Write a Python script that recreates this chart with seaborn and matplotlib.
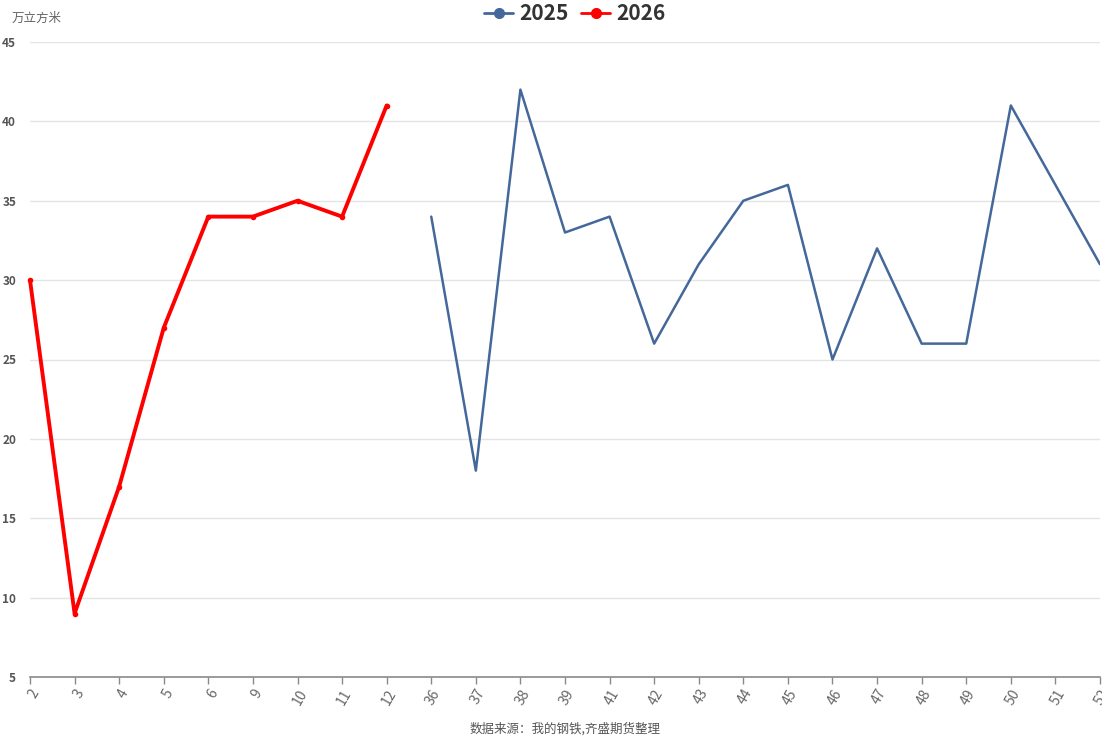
import matplotlib
matplotlib.use("Agg")
import matplotlib.pyplot as plt
from matplotlib.lines import Line2D
import seaborn as sns
import pandas as pd

weeks_2026 = ["2", "3", "4", "5", "6", "9", "10", "11", "12"]
values_2026 = [30, 9, 17, 27, 34, 34, 35, 34, 41]
weeks_2025 = ["36", "37", "38", "39", "41", "42", "43", "44", "45", "46",
              "47", "48", "49", "50", "51", "52"]
values_2025 = [34, 18, 42, 33, 34, 26, 31, 35, 36, 25, 32, 26, 26, 41, 36, 31]

all_weeks = weeks_2026 + weeks_2025
y_ticks = [5, 10, 15, 20, 25, 30, 35, 40, 45]

sns.set_theme(style="white")
plt.rcParams["font.family"] = ["Noto Sans CJK SC", "DejaVu Sans"]

df = pd.concat([
    pd.DataFrame({"week": weeks_2026, "value": values_2026, "year": "2026"}),
    pd.DataFrame({"week": weeks_2025, "value": values_2025, "year": "2025"}),
])
df["pos"] = df["week"].map({w: i for i, w in enumerate(all_weeks)})

blue = "#44689a"
red = "#ff0000"

fig = plt.figure(figsize=(11.02, 7.36), dpi=100)
ax = fig.add_axes([30 / 1102, 1 - 677 / 736, 1070 / 1102, 635 / 736])

sns.lineplot(data=df[df["year"] == "2025"], x="pos", y="value", color=blue,
             linewidth=1.8, ax=ax, legend=False)
sns.lineplot(data=df[df["year"] == "2026"], x="pos", y="value", color=red,
             linewidth=2.8, marker="o", markersize=4, markeredgewidth=0,
             ax=ax, legend=False, clip_on=False)

ax.set_xlim(0, len(all_weeks) - 1)
ax.set_ylim(5, 45)
ax.set_yticks(y_ticks)
ax.set_xticks(range(len(all_weeks)))
ax.set_xticklabels(all_weeks, rotation=60, ha="right", rotation_mode="anchor",
                   fontsize=10, color="#666666")
ax.set_yticklabels([str(v) for v in y_ticks], fontsize=8.5, color="#555555",
                   fontweight="bold")
ax.set_xlabel("")
ax.set_ylabel("")

ax.grid(axis="y", color="#e4e4e4", linewidth=1)
ax.set_axisbelow(True)
for side in ["left", "right", "top"]:
    ax.spines[side].set_visible(False)
ax.spines["bottom"].set_color("#8a8a8a")
ax.spines["bottom"].set_linewidth(1.2)
ax.tick_params(axis="x", bottom=True, length=5, width=1, color="#8a8a8a", pad=2)
ax.tick_params(axis="y", left=False, pad=4)

fig.text(12 / 1102, 1 - 18 / 736, "万立方米", fontsize=9, color="#666666",
         va="center", ha="left")

handles = [
    Line2D([0], [0], color=blue, linewidth=2, marker="o", markersize=7),
    Line2D([0], [0], color=red, linewidth=2, marker="o", markersize=7),
]
fig.legend(handles, ["2025", "2026"], loc="center", bbox_to_anchor=(575 / 1102, 1 - 14 / 736),
           ncol=2, frameon=False, handlelength=1.4, handletextpad=0.3,
           columnspacing=0.6, prop={"size": 15, "weight": "bold"},
           labelcolor="#333333")

fig.text(565 / 1102, 1 - 729 / 736, "数据来源：我的钢铁,齐盛期货整理", fontsize=9,
         color="#555555", ha="center", va="center")

fig.savefig("out.png", dpi=100)
